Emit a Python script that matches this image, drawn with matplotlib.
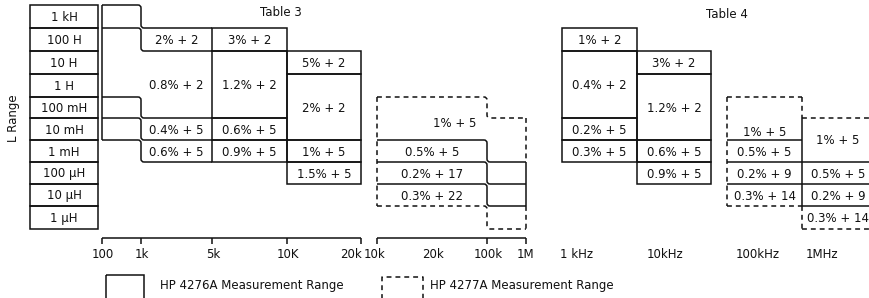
import matplotlib
matplotlib.use('Agg')
import matplotlib.pyplot as plt
from matplotlib.path import Path
from matplotlib.patches import PathPatch, Rectangle

plt.rcParams['font.family'] = ['DejaVu Sans']

# inductance ranges, top to bottom
l_ranges = ['1 kH', '100 H', '10 H', '1 H', '100 mH', '10 mH', '1 mH',
            '100 \u03bcH', '10 \u03bcH', '1 \u03bcH']

# Table 3, HP 4276A: (accuracy, first row, end row)
t3_1k = [('2% + 2', 1, 2), ('0.8% + 2', 2, 5), ('0.4% + 5', 5, 6), ('0.6% + 5', 6, 7)]
t3_5k = [('3% + 2', 1, 2), ('1.2% + 2', 2, 5), ('0.6% + 5', 5, 6), ('0.9% + 5', 6, 7)]
t3_10k = [('5% + 2', 2, 3), ('2% + 2', 3, 6), ('1% + 5', 6, 7), ('1.5% + 5', 7, 8)]
# Table 3, HP 4277A 10k-100k (one row lower above 100k)
t3_4277 = [('1% + 5', 4, 6), ('0.5% + 5', 6, 7), ('0.2% + 17', 7, 8), ('0.3% + 22', 8, 9)]
t3_ticks_a = ['100', '1k', '5k', '10K', '20k']
t3_ticks_b = ['10k', '20k', '100k', '1M']

# Table 4
t4_1k = [('1% + 2', 1, 2), ('0.4% + 2', 2, 5), ('0.2% + 5', 5, 6), ('0.3% + 5', 6, 7)]
t4_10k = [('3% + 2', 2, 3), ('1.2% + 2', 3, 6), ('0.6% + 5', 6, 7), ('0.9% + 5', 7, 8)]
t4_100k = [('1% + 5', 4, 6), ('0.5% + 5', 6, 7), ('0.2% + 9', 7, 8), ('0.3% + 14', 8, 9)]
t4_1m = [('1% + 5', 5, 7), ('0.5% + 5', 7, 8), ('0.2% + 9', 8, 9), ('0.3% + 14', 9, 10)]
t4_labels = ['1 kHz', '10kHz', '100kHz', '1MHz']

# layout (pixels)
ROW_Y = [5, 28, 51, 74, 97, 118, 140, 162, 184, 206, 229]
X3 = [102, 141, 212, 287, 361]
X3B = [377, 487, 526]
X3B_LAB = [375, 433, 488, 525]
X4 = [562, 637, 711]
X4B = [727, 802, 874]
X4_LAB = [577, 665, 758, 822]
AXIS_Y = 238
FS = 8.5
LW = 1.1
DASH = (0, (3.2, 2.6))
K = '#111111'

fig = plt.figure(figsize=(8.69, 2.98), dpi=100)
ax = fig.add_axes([0, 0, 1, 1])
ax.set_xlim(0, 869)
ax.set_ylim(298, 0)
ax.axis('off')


def line(pts, dashed=False):
    xs = [p[0] for p in pts]
    ys = [p[1] for p in pts]
    ax.plot(xs, ys, color=K, lw=LW, ls=DASH if dashed else '-',
            solid_capstyle='butt', clip_on=True)


def step(xa, xj, xb, ya, yb, dashed=False):
    r = 3
    v = [(xa, ya), (xj - r, ya), (xj, ya), (xj, ya + r), (xj, yb - r),
         (xj, yb), (xj + r, yb), (xb, yb)]
    c = [Path.MOVETO, Path.LINETO, Path.CURVE3, Path.CURVE3, Path.LINETO,
         Path.CURVE3, Path.CURVE3, Path.LINETO]
    ax.add_patch(PathPatch(Path(v, c), fill=False, ec=K, lw=LW,
                           ls=DASH if dashed else '-'))


def boxes(cells, x0, x1):
    for txt, a, b in cells:
        ax.add_patch(Rectangle((x0, ROW_Y[a]), x1 - x0, ROW_Y[b] - ROW_Y[a],
                               fill=False, ec=K, lw=LW))
        ax.text((x0 + x1) / 2, (ROW_Y[a] + ROW_Y[b]) / 2 + 1, txt,
                ha='center', va='center', fontsize=FS, color=K)


def bounds(cells):
    return [cells[0][1]] + [c[2] for c in cells]


# row labels
for i, lab in enumerate(l_ranges):
    ax.add_patch(Rectangle((30, ROW_Y[i]), 68, ROW_Y[i + 1] - ROW_Y[i],
                           fill=False, ec=K, lw=LW))
    ax.text(64, (ROW_Y[i] + ROW_Y[i + 1]) / 2 + 1, lab, ha='center',
            va='center', fontsize=FS, color=K)
ax.text(14, 118, 'L Range', rotation=90, ha='center', va='center',
        fontsize=FS, color=K)

# Table 3 - HP 4276A, 100..1k strip is the 1k..5k column one row up
for b in bounds(t3_1k):
    step(X3[0], X3[1], X3[2], ROW_Y[b - 1], ROW_Y[b])
line([(X3[0], ROW_Y[0]), (X3[0], ROW_Y[bounds(t3_1k)[-1] - 1])])
for txt, a, b in t3_1k:
    ax.text((X3[1] + X3[2]) / 2, (ROW_Y[a] + ROW_Y[b]) / 2 + 1, txt,
            ha='center', va='center', fontsize=FS, color=K)
boxes(t3_5k, X3[2], X3[3])
boxes(t3_10k, X3[3], X3[4])

# Table 3 - HP 4277A
bb = bounds(t3_4277)
for i, b in enumerate(bb):
    step(X3B[0], X3B[1], X3B[2], ROW_Y[b], ROW_Y[b + 1],
         dashed=(i == 0 or i == len(bb) - 1))
line([(X3B[0], ROW_Y[bb[0]]), (X3B[0], ROW_Y[bb[-1]])], dashed=True)
for i, (txt, a, b) in enumerate(t3_4277):
    outer = i == 0 or i == len(t3_4277) - 1
    line([(X3B[2], ROW_Y[a + 1]), (X3B[2], ROW_Y[b + 1])], dashed=outer)
    if i == 0:
        ax.text((X3B[0] + X3B[2]) / 2 + 3, (ROW_Y[a] + ROW_Y[b]) / 2 + 5, txt,
                ha='center', va='center', fontsize=FS, color=K)
    else:
        ax.text((X3B[0] + X3B[1]) / 2, (ROW_Y[a] + ROW_Y[b]) / 2 + 1, txt,
                ha='center', va='center', fontsize=FS, color=K)

# Table 3 axes
line([(X3[0], AXIS_Y), (X3[-1], AXIS_Y)])
for x in X3:
    line([(x, AXIS_Y), (x, AXIS_Y + 6)])
for x, lab in zip(X3, t3_ticks_a):
    if lab == t3_ticks_a[-1]:
        ax.text(x + 1, 255, lab, ha='right', va='center', fontsize=FS, color=K)
    else:
        ax.text(x + 1, 255, lab, ha='center', va='center', fontsize=FS, color=K)
line([(X3B[0], AXIS_Y), (X3B[-1], AXIS_Y)])
for x in X3B:
    line([(x, AXIS_Y), (x, AXIS_Y + 6)])
for x, lab in zip(X3B_LAB, t3_ticks_b):
    ax.text(x, 255, lab, ha='center', va='center', fontsize=FS, color=K)

# Table 4 - HP 4276A
boxes(t4_1k, X4[0], X4[1])
boxes(t4_10k, X4[1], X4[2])

# Table 4 - HP 4277A (1MHz column runs off the right edge)
for cells, x0, x1, ext in [(t4_100k, X4B[0], X4B[1], 0),
                           (t4_1m, X4B[1], X4B[2], 10)]:
    bb = bounds(cells)
    for i, b in enumerate(bb):
        line([(x0, ROW_Y[b]), (x1 + ext, ROW_Y[b])],
             dashed=(i == 0 or i == len(bb) - 1))
    for i, (txt, a, b) in enumerate(cells):
        ty = (ROW_Y[a] + ROW_Y[b]) / 2 + 1
        if b - a > 1 and x0 == X4B[0]:
            ty = (ROW_Y[b - 1] + ROW_Y[b]) / 2 + 3
        ax.text((x0 + x1) / 2, ty, txt, ha='center', va='center',
                fontsize=FS, color=K)
c_b = bounds(t4_100k)
d_b = bounds(t4_1m)
line([(X4B[0], ROW_Y[c_b[0]]), (X4B[0], ROW_Y[c_b[-1]])], dashed=True)
line([(X4B[1], ROW_Y[c_b[0]]), (X4B[1], ROW_Y[d_b[0]])], dashed=True)
line([(X4B[1], ROW_Y[d_b[0]]), (X4B[1], ROW_Y[c_b[-1]])])
line([(X4B[1], ROW_Y[c_b[-1]]), (X4B[1], ROW_Y[d_b[-1]])], dashed=True)
for x, lab in zip(X4_LAB, t4_labels):
    ax.text(x, 255, lab, ha='center', va='center', fontsize=FS, color=K)

# titles
ax.text(281, 12, 'Table 3', ha='center', va='center', fontsize=FS, color=K)
ax.text(727, 15, 'Table 4', ha='center', va='center', fontsize=FS, color=K)

# legend
ax.add_patch(Rectangle((106, 275), 38, 30, fill=False, ec=K, lw=LW))
ax.text(160, 286, 'HP 4276A Measurement Range', ha='left', va='center',
        fontsize=FS, color=K)
line([(382, 300), (382, 277), (423, 277), (423, 300)], dashed=True)
ax.text(430, 286, 'HP 4277A Measurement Range', ha='left', va='center',
        fontsize=FS, color=K)

fig.savefig('out.png', dpi=100)
